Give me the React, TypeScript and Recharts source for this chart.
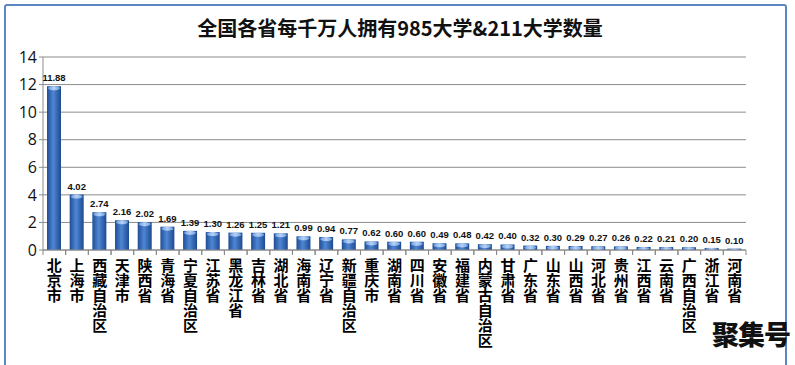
import React from 'react'
import { Bar, BarChart, CartesianGrid, LabelList, XAxis, YAxis } from 'recharts'

const provinces = [
  '北京市', '上海市', '西藏自治区', '天津市', '陕西省', '青海省', '宁夏自治区', '江苏省',
  '黑龙江省', '吉林省', '湖北省', '海南省', '辽宁省', '新疆自治区', '重庆市', '湖南省',
  '四川省', '安徽省', '福建省', '内蒙古自治区', '甘肃省', '广东省', '山东省', '山西省',
  '河北省', '贵州省', '江西省', '云南省', '广西自治区', '浙江省', '河南省',
]

const perTenMillion = [
  11.88, 4.02, 2.74, 2.16, 2.02, 1.69, 1.39, 1.3, 1.26, 1.25, 1.21, 0.99, 0.94, 0.77, 0.62, 0.6,
  0.6, 0.49, 0.48, 0.42, 0.4, 0.32, 0.3, 0.29, 0.27, 0.26, 0.22, 0.21, 0.2, 0.15, 0.1,
]

const yTicks = [0, 2, 4, 6, 8, 10, 12, 14]

const data = provinces.map((name, i) => ({ name, value: perTenMillion[i] }))

const CJK = '"Noto Sans CJK SC", "Noto Sans", sans-serif'

// stacked vertical label, one character per line, plus boundary ticks
function ProvinceTick(props: any) {
  const { x, y, payload } = props
  const chars: string[] = Array.from(payload.value as string)
  const half = 703 / 31 / 2
  return (
    <g>
      <line x1={x - half} x2={x - half} y1={y - 8} y2={y - 3} stroke="#888" />
      <line x1={x + half} x2={x + half} y1={y - 8} y2={y - 3} stroke="#888" />
      {chars.map((c, i) => (
        <text
          key={i}
          x={x}
          y={y + 13 + i * 15}
          textAnchor="middle"
          fontFamily={CJK}
          fontWeight={700}
          fontSize={15}
          fill="#000"
        >
          {c}
        </text>
      ))}
    </g>
  )
}

function CylinderBar(props: any) {
  const { x, y, width, height } = props
  if (!height || height <= 0) return null
  const capH = Math.min(4, height)
  return (
    <g>
      <rect x={x} y={y} width={width} height={height} fill="url(#barGrad)" />
      <ellipse cx={x + width / 2} cy={y + capH / 2} rx={width / 2 - 1} ry={capH / 2} fill="url(#capGrad)" />
    </g>
  )
}

export default function App() {
  return (
    <div
      style={{
        position: 'absolute',
        left: 0,
        top: 0,
        width: 795,
        height: 365,
        background: '#fff',
        overflow: 'hidden',
      }}
    >
      <div
        style={{
          position: 'absolute',
          left: 4,
          top: 4,
          width: 779,
          height: 380,
          border: '2px solid #5b86c0',
          borderRadius: 3,
        }}
      />
      <div
        style={{
          position: 'absolute',
          left: 0,
          top: 13,
          width: 800,
          textAlign: 'center',
          fontFamily: CJK,
          fontWeight: 700,
          fontSize: 20,
          color: '#111',
        }}
      >
        全国各省每千万人拥有985大学&amp;211大学数量
      </div>
      <div style={{ position: 'absolute', left: 0, top: 0 }}>
        <BarChart
          width={795}
          height={365}
          data={data}
          margin={{ top: 57, right: 49, bottom: 0, left: 0 }}
        >
          <defs>
            <linearGradient id="barGrad" x1="0" y1="0" x2="1" y2="0">
              <stop offset="0%" stopColor="#1f4d96" />
              <stop offset="45%" stopColor="#4f86d4" />
              <stop offset="100%" stopColor="#1d4a90" />
            </linearGradient>
            <linearGradient id="capGrad" x1="0" y1="0" x2="1" y2="0">
              <stop offset="0%" stopColor="#6c9be0" />
              <stop offset="50%" stopColor="#b7d2f5" />
              <stop offset="100%" stopColor="#6c9be0" />
            </linearGradient>
          </defs>
          <CartesianGrid vertical={false} stroke="#8c8c8c" />
          <XAxis
            dataKey="name"
            interval={0}
            height={115}
            tickLine={false}
            axisLine={{ stroke: '#8c8c8c' }}
            tick={<ProvinceTick />}
          />
          <YAxis
            width={43}
            domain={[0, 14]}
            ticks={yTicks}
            interval={0}
            axisLine={{ stroke: '#8c8c8c' }}
            tickLine={{ stroke: '#8c8c8c' }}
            tickSize={4}
            tick={{ fill: '#111', fontSize: 16, fontFamily: '"Open Sans", sans-serif' }}
          />
          <Bar dataKey="value" barSize={14} shape={<CylinderBar />} isAnimationActive={false}>
            <LabelList
              dataKey="value"
              position="top"
              offset={5}
              formatter={(v: any) => Number(v).toFixed(2)}
              style={{ fill: '#111', fontSize: 9.5, fontWeight: 700, fontFamily: '"Liberation Sans", sans-serif' }}
            />
          </Bar>
        </BarChart>
      </div>
      <div
        style={{
          position: 'absolute',
          left: 712,
          top: 314,
          fontFamily: CJK,
          fontWeight: 900,
          fontSize: 27,
          color: '#111',
          letterSpacing: -1,
        }}
      >
        聚集号
      </div>
    </div>
  )
}
